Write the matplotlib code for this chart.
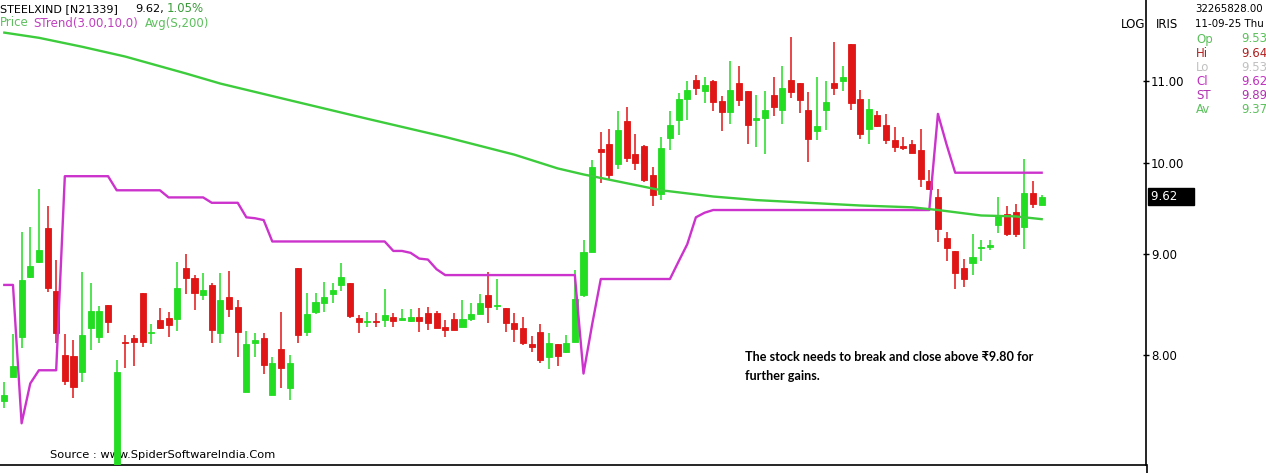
import matplotlib
matplotlib.use("Agg")
import matplotlib.pyplot as plt
from matplotlib.lines import Line2D
from matplotlib.ticker import NullLocator
import numpy as np

# Daily candles (oldest first)
opens = [7.58, 7.80, 8.17, 8.76, 8.91, 9.27, 8.62, 8.00, 7.99, 7.84,
         8.26, 8.17, 8.48, 7.02, 8.12, 8.16, 8.60, 8.21, 8.33, 8.35,
         8.34, 8.85, 8.75, 8.58, 8.68, 8.21, 8.56, 8.46, 7.66, 8.11,
         8.16, 7.64, 8.06, 7.70, 8.85, 8.22, 8.41, 8.50, 8.59, 8.68,
         8.70, 8.35, 8.31, 8.32, 8.33, 8.36, 8.33, 8.32, 8.36, 8.40,
         8.40, 8.27, 8.34, 8.27, 8.34, 8.39, 8.58, 8.47, 8.45, 8.30,
         8.26, 8.10, 8.22, 7.98, 8.10, 8.03, 8.12, 8.58, 9.02, 10.17,
         10.23, 9.99, 10.50, 10.11, 10.20, 9.86, 9.65, 10.30, 10.52, 10.77,
         11.02, 10.88, 11.00, 10.75, 10.61, 10.98, 10.87, 10.51, 10.54, 10.82,
         10.64, 11.02, 10.98, 10.64, 10.38, 10.64, 10.98, 11.00, 11.49, 10.77,
         10.41, 10.58, 10.46, 10.27, 10.20, 10.23, 10.15, 9.80, 9.62, 9.17,
         9.03, 8.85, 8.90, 9.06, 9.07, 9.31, 9.43, 9.45, 9.28, 9.66,
         9.53]
highs = [7.75, 8.20, 9.23, 9.29, 9.71, 9.51, 8.94, 8.20, 8.14, 8.81,
         8.70, 8.47, 8.48, 7.95, 8.19, 8.19, 8.60, 8.29, 8.45, 8.41,
         8.91, 9.00, 8.78, 8.80, 8.70, 8.80, 8.82, 8.53, 8.23, 8.21,
         8.21, 7.98, 8.41, 8.00, 8.85, 8.60, 8.60, 8.71, 8.70, 8.90,
         8.70, 8.38, 8.41, 8.40, 8.64, 8.40, 8.44, 8.44, 8.45, 8.46,
         8.42, 8.33, 8.40, 8.53, 8.50, 8.59, 8.81, 8.74, 8.45, 8.40,
         8.36, 8.18, 8.29, 8.21, 8.10, 8.19, 8.83, 9.15, 10.04, 10.37,
         10.40, 10.62, 10.67, 10.34, 10.21, 9.96, 10.31, 10.63, 10.85, 11.00,
         11.08, 11.05, 11.02, 10.81, 11.26, 11.20, 10.87, 10.82, 10.87, 11.06,
         11.20, 11.58, 10.98, 10.86, 11.06, 11.00, 11.51, 11.20, 11.49, 10.89,
         10.77, 10.62, 10.59, 10.43, 10.31, 10.27, 10.41, 9.92, 9.71, 9.23,
         9.03, 8.95, 9.21, 9.15, 9.15, 9.62, 9.51, 9.54, 10.05, 9.80,
         9.64]
lows = [7.52, 7.80, 8.07, 8.75, 8.90, 8.61, 8.11, 7.73, 7.61, 7.75,
        8.05, 8.11, 8.21, 6.95, 7.88, 7.90, 8.08, 8.10, 8.25, 8.17,
        8.23, 8.59, 8.43, 8.53, 8.11, 8.11, 8.36, 7.98, 7.66, 7.98,
        7.83, 7.64, 7.70, 7.59, 8.11, 8.18, 8.39, 8.41, 8.50, 8.62,
        8.35, 8.21, 8.27, 8.27, 8.27, 8.27, 8.33, 8.31, 8.22, 8.24,
        8.26, 8.17, 8.24, 8.27, 8.32, 8.39, 8.30, 8.43, 8.22, 8.12,
        8.09, 8.03, 7.93, 7.87, 7.90, 8.02, 8.12, 8.56, 9.02, 9.77,
        9.82, 9.93, 10.01, 9.92, 9.78, 9.51, 9.58, 10.16, 10.33, 10.52,
        10.83, 10.73, 10.63, 10.38, 10.47, 10.69, 10.23, 10.19, 10.11, 10.56,
        10.47, 10.79, 10.60, 10.01, 10.27, 10.39, 10.83, 10.88, 10.64, 10.28,
        10.23, 10.43, 10.23, 10.13, 10.15, 10.12, 9.73, 9.69, 9.12, 8.93,
        8.64, 8.66, 8.78, 8.93, 9.04, 9.22, 9.19, 9.18, 9.05, 9.49,
        9.53]
closes = [7.64, 7.90, 8.73, 8.87, 9.04, 8.65, 8.21, 7.76, 7.71, 8.19,
          8.42, 8.42, 8.31, 7.84, 8.11, 8.12, 8.12, 8.22, 8.26, 8.28,
          8.65, 8.75, 8.60, 8.63, 8.24, 8.53, 8.44, 8.22, 8.10, 8.14,
          7.91, 7.93, 7.88, 7.93, 8.19, 8.39, 8.51, 8.56, 8.63, 8.76,
          8.37, 8.31, 8.32, 8.31, 8.38, 8.32, 8.35, 8.36, 8.32, 8.30,
          8.26, 8.24, 8.24, 8.34, 8.39, 8.50, 8.46, 8.48, 8.30, 8.25,
          8.11, 8.08, 7.95, 8.11, 7.99, 8.11, 8.54, 9.02, 9.96, 10.13,
          9.86, 10.39, 10.06, 10.00, 9.81, 9.64, 10.18, 10.45, 10.77, 10.89,
          10.91, 10.95, 10.74, 10.61, 10.89, 10.76, 10.45, 10.54, 10.64, 10.67,
          10.92, 10.86, 10.76, 10.29, 10.44, 10.74, 10.92, 11.05, 10.72, 10.35,
          10.65, 10.44, 10.27, 10.19, 10.18, 10.12, 9.82, 9.71, 9.26, 9.06,
          8.80, 8.74, 8.97, 9.07, 9.09, 9.42, 9.21, 9.21, 9.66, 9.54,
          9.62]

# SuperTrend(3,10) value per candle
strend = [8.68, 8.68, 7.39, 7.74, 7.86, 7.86, 7.86, 9.85, 9.85, 9.85,
          9.85, 9.85, 9.85, 9.69, 9.69, 9.69, 9.69, 9.69, 9.69, 9.61,
          9.61, 9.61, 9.61, 9.61, 9.55, 9.55, 9.55, 9.55, 9.39, 9.38,
          9.36, 9.13, 9.13, 9.13, 9.13, 9.13, 9.13, 9.13, 9.13, 9.13,
          9.13, 9.13, 9.13, 9.13, 9.13, 9.03, 9.03, 9.01, 8.95, 8.94,
          8.84, 8.78, 8.78, 8.78, 8.78, 8.78, 8.78, 8.78, 8.78, 8.78,
          8.78, 8.78, 8.78, 8.78, 8.78, 8.78, 8.78, 7.83, 8.29, 8.74,
          8.74, 8.74, 8.74, 8.74, 8.74, 8.74, 8.74, 8.74, 8.92, 9.10,
          9.39, 9.44, 9.47, 9.47, 9.47, 9.47, 9.47, 9.47, 9.47, 9.47,
          9.47, 9.47, 9.47, 9.47, 9.47, 9.47, 9.47, 9.47, 9.47, 9.47,
          9.47, 9.47, 9.47, 9.47, 9.47, 9.47, 9.47, 9.47, 10.59, 10.22,
          9.89, 9.89, 9.89, 9.89, 9.89, 9.89, 9.89, 9.89, 9.89, 9.89,
          9.89]

# 200-day simple average, read at a few candles
avg_idx = [0, 4, 9, 14, 21, 25, 33, 42, 51, 59, 64, 67, 69, 76, 82, 87, 99, 105, 108, 113, 117, 120]
avg_vals = [11.64, 11.57, 11.45, 11.32, 11.10, 10.97, 10.76, 10.53, 10.31, 10.10, 9.94,
            9.87, 9.83, 9.69, 9.62, 9.58, 9.52, 9.50, 9.47, 9.41, 9.40, 9.37]

y_ticks = [8, 9, 10, 11]

UP = "#22dd22"
DOWN = "#e01515"
ST_COL = "#cc33cc"
AVG_COL = "#3ccc3c"
FONT = "DejaVu Sans"

W, H = 1266, 473
fig = plt.figure(figsize=(W / 100, H / 100), dpi=100)
ax = fig.add_axes([0, 8 / H, 1146 / W, 465 / H])


def px(x, y):
    # pixel position (from top-left) -> figure fraction
    return x / W, 1 - y / H


o = np.array(opens)
c = np.array(closes)
x = np.arange(len(opens))
cols = np.where(c >= o, UP, DOWN)

ax.vlines(x, lows, highs, colors=cols, lw=1.1, zorder=3)
ax.bar(x, np.abs(c - o), bottom=np.minimum(o, c), width=0.7, color=cols,
       edgecolor=cols, linewidth=0.6, zorder=4)

ax.plot(x, strend, color=ST_COL, lw=1.7, zorder=5)
ax.plot(avg_idx, avg_vals, color=AVG_COL, lw=1.7, zorder=5)

ax.set_yscale("log")
ax.set_ylim(7.04, 12.09)
ax.set_xlim(-0.5, 132.07)
ax.yaxis.tick_right()
ax.set_yticks(y_ticks)
ax.set_yticklabels([f"{v:.2f}" for v in y_ticks], fontsize=8.5, family=FONT)
ax.yaxis.set_minor_locator(NullLocator())
ax.tick_params(axis="y", direction="inout", length=5, width=1, pad=1)
ax.set_xticks([])
for s in ["top", "left"]:
    ax.spines[s].set_visible(False)
for s in ["right", "bottom"]:
    ax.spines[s].set_linewidth(1.2)
fig.add_artist(Line2D([1146.5 / W, 1146.5 / W], [0, 8 / H], color="black", lw=1.2))

# last price box
ax.text(1.004, closes[-1], "9.62    ", transform=ax.get_yaxis_transform(),
        color="white", fontsize=8.5, family=FONT, va="center", ha="left",
        bbox=dict(facecolor="black", edgecolor="black", boxstyle="square,pad=0.2"))

# header
fig.text(*px(0, 9), "STEELXIND [N21339]", fontsize=8, family=FONT, va="center")
fig.text(*px(135, 9), "9.62,", fontsize=8.2, family=FONT, va="center")
fig.text(*px(167, 9), "1.05%", fontsize=8.5, family=FONT, va="center", color="#3a9a3a")
fig.text(*px(0, 23), "Price", fontsize=8.5, family=FONT, va="center", color="#5cc05c")
fig.text(*px(33, 23), "STrend(3.00,10,0)", fontsize=8.5, family=FONT, va="center", color="#c040c0")
fig.text(*px(145, 23), "Avg(S,200)", fontsize=8.5, family=FONT, va="center", color="#5cc05c")

# right panel
fig.text(*px(1121, 24), "LOG", fontsize=8.5, family=FONT, va="center")
fig.text(*px(1156, 24), "IRIS", fontsize=8.5, family=FONT, va="center")
fig.text(*px(1195, 9), "32265828.00", fontsize=7.4, family=FONT, va="center")
fig.text(*px(1195, 24), "11-09-25 Thu", fontsize=7.4, family=FONT, va="center")
panel = [("Op", "9.53", "#5cc05c"),
         ("Hi", "9.64", "#b02020"),
         ("Lo", "9.53", "#c0c0c0"),
         ("Cl", "9.62", "#c030c0"),
         ("ST", "9.89", "#b030b0"),
         ("Av", "9.37", "#5cc05c")]
for i, (lab, val, col) in enumerate(panel):
    yy = 39 + i * 14.1
    fig.text(*px(1196, yy), lab, fontsize=8.5, family=FONT, va="center", color=col)
    fig.text(*px(1241, yy), val, fontsize=8.5, family=FONT, va="center", color=col)

# notes
ax.text(*px(50, 455), "Source : www.SpiderSoftwareIndia.Com", transform=fig.transFigure,
        fontsize=8.2, family=FONT, va="center", zorder=1, clip_on=False)
fig.text(*px(745, 351), "The stock needs to break and close above \u20b99.80 for\nfurther gains.",
         fontsize=9.1, family=["Lato", "DejaVu Sans"], fontweight="bold", va="top",
         linespacing=1.65)

fig.savefig("out.png", dpi=100)
